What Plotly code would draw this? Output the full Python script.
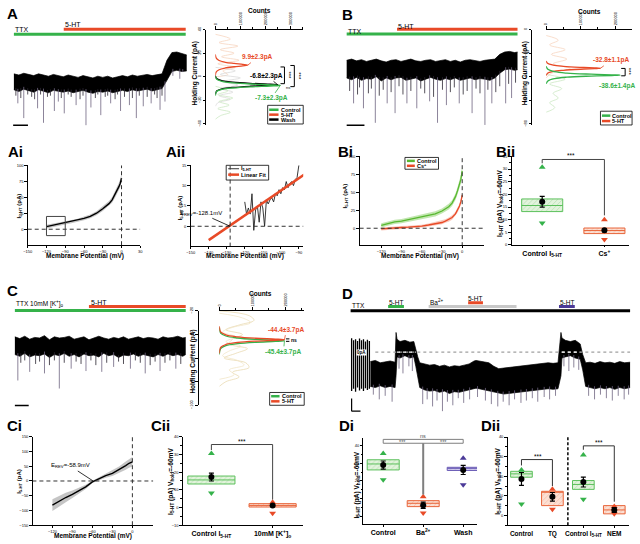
import numpy as np
import plotly.graph_objects as go

# ============================ DATA ============================
# ---- A: holding current trace (t in s, I in pA) ----
A_t = [0,20,40,60,80,100,120,140,160,180,200,220,240,260,280,300,320,340,360,380,400,420,440,460,480,500,520,540,560,580,600,620,640,660,680,700]
A_hi = [2.5,1.5,3.0,2.0,1.0,2.5,1.5,0.5,2.0,1.0,0.0,1.5,0.5,-0.5,1.0,0.0,-1.0,0.5,-0.5,0.5,-1.0,0.0,1.0,0.0,1.5,0.5,1.0,2.0,1.0,1.5,2.5,14.0,20.5,21.0,19.5,18.5]
A_lo = [-11,-12.5,-10.5,-12,-13,-11,-12,-13.5,-11.5,-12.5,-13,-12,-13.5,-12.5,-11.5,-13,-14,-12.5,-13,-12,-13.5,-12.5,-11.5,-12.5,-11,-12,-11.5,-10.5,-12,-11,-10,-3,4.5,5.5,4.5,5.0]
A_spk_t = [16,40,96,120,164,180,204,252,292,312,352,392,432,468,496,524,556,592,612,644,672,684]
A_spk_v = [-22.5,-35,-26.7,-39,-29,-21,-31,-24,-41,-26,-32.5,-22.5,-29,-24,-35,-25,-22.5,-28,-21,0.8,-1.7,4]
A_spk2_t = [8,28,56,72,84,108,136,148,192,220,232,268,280,330,340,370,380,410,420,448,480,508,540,570,580,600]
A_spk2_v = [-16,-18,-15,-17,-19,-15,-17,-16,-18,-15,-17,-19,-16,-18,-15,-17,-16,-19,-15,-17,-18,-16,-17,-15,-18,-16]
A_ttx = [0, 696]
A_5ht = [202, 696]

# ---- A: holding-current histograms (I pA, counts x1e5) ----
A_fit_5ht_i = [1,4,6,7.5,8.5,9.3,9.9,10.5,11.3,12.3,13.8,16,19]
A_fit_5ht_n = [0,0.03,0.15,0.4,0.75,1.1,1.3,1.1,0.75,0.4,0.15,0.03,0]
A_fit_wash_i = [-15,-12,-10,-9,-8,-7.3,-6.8,-6.2,-5.5,-4.5,-3.5,-1.5,1]
A_fit_wash_n = [0,0.05,0.3,0.7,1.4,2.1,2.5,2.1,1.4,0.7,0.3,0.05,0]
A_fit_ctrl_i = [-16,-12.5,-10.5,-9.5,-8.5,-7.8,-7.3,-6.8,-6.1,-5.1,-4.1,-2,0.5]
A_fit_ctrl_n = [0,0.05,0.3,0.7,1.4,2.2,2.6,2.2,1.4,0.7,0.3,0.05,0]
A_cell_5ht_i = [36,32,29,26,23,20,17,14,11,8,5,2,0]
A_cell_5ht_n = [0,0.6,0.15,0.9,0.2,0.75,0.25,0.95,0.1,0.8,0.3,0.5,0]
A_cell_wash_i = [8,5,2,-1,-4,-7,-10,-13,-16,-19,-22,-25]
A_cell_wash_n = [0,0.8,0.2,1.0,0.3,0.9,0.2,0.7,0.15,0.6,0.1,0]
A_cell_ctrl_i = [-8,-12,-15,-18,-21,-24,-27,-30,-33,-36]
A_cell_ctrl_n = [0,0.5,0.1,0.7,0.15,0.55,0.1,0.6,0.2,0]

# ---- B: trace ----
B_t = [0,20,40,60,80,100,120,140,160,180,200,220,240,260,280,300,320,340,360,380,400,420,440,460,480,500,520,540,560,580,600,620,640,660,680,692]
B_hi = [-26,-25,-26.5,-25.5,-27,-26,-25,-26.5,-27.5,-26,-25.5,-27,-26,-25,-26.5,-27,-26,-25.5,-27,-26.5,-25.5,-27,-26,-27.5,-26,-25.5,-26.5,-27,-26,-25.5,-25,-21,-19,-18.5,-19.5,-19]
B_lo = [-41,-42.5,-40.5,-43,-41.5,-42,-40,-43.5,-41,-42.5,-41,-40.5,-43,-42,-41,-43.5,-42,-40.5,-42,-43,-41.5,-42.5,-41,-43,-42,-41,-42.5,-41.5,-42,-43,-41,-37,-34,-33.5,-34.5,-34]
B_spk_t = [28,68,116,164,196,244,284,336,368,404,456,508,560,588,644,668]
B_spk_v = [-62.5,-66.7,-79,-62.5,-70.8,-62.5,-66.7,-60.8,-79,-64,-62.5,-70.8,-80.8,-62.5,-62.5,-58]
B_spk2_t = [12,44,52,88,100,132,148,180,212,228,260,300,316,352,388,420,436,472,488,524,540,572,604,620,656,684]
B_spk2_v = [-52,-55,-49,-54,-50,-56,-51,-53,-48,-55,-52,-50,-54,-57,-51,-53,-49,-55,-52,-50,-54,-51,-53,-48,-46,-45]
B_ttx = [0, 692]
B_5ht = [204, 692]

# ---- B: histograms ----
B_fit_5ht_i = [-39,-37,-35.5,-34.5,-33.6,-33.1,-32.8,-32.5,-32,-31.1,-30.1,-28.6,-26.6]
B_fit_5ht_n = [0,0.04,0.2,0.5,1.0,1.4,1.57,1.4,1.0,0.5,0.2,0.04,0]
B_fit_ctrl_i = [-46,-43.5,-41.5,-40.3,-39.4,-38.9,-38.6,-38.3,-37.8,-36.9,-35.7,-33.7,-31]
B_fit_ctrl_n = [0,0.05,0.25,0.6,1.3,1.9,2.14,1.9,1.3,0.6,0.25,0.05,0]
B_cell_5ht_i = [-5,-9,-13,-17,-21,-25,-29,-33,-37,-41]
B_cell_5ht_n = [0,0.35,0.1,0.55,0.15,0.6,0.2,0.7,0.15,0]
B_cell_ctrl_i = [-38,-42,-46,-50,-54,-58,-62,-66,-70]
B_cell_ctrl_n = [0,0.55,0.1,0.45,0.2,0.35,0.1,0.25,0]

# ---- C: trace ----
C_t = [0,20,40,60,80,100,120,140,160,180,200,220,240,260,280,300,320,340,360,380,400,420,440,460,480,500,520,540,560,580,600,620,640,660,680,692]
C_hi = [-42,-43.5,-41.5,-44,-42.5,-43,-41,-44.5,-42,-43,-42.5,-41.5,-44,-43,-42,-44.5,-43,-41.5,-43,-44,-42.5,-43.5,-42,-44,-43,-42,-43.5,-42.5,-43,-44,-42,-43,-42.5,-41.5,-43,-42.5]
C_lo = [-57,-58.5,-56,-59,-57.5,-58,-56.5,-59.5,-57,-58,-56,-58.5,-57,-59,-56.5,-58,-57.5,-59,-56,-58,-57,-59.5,-57.5,-58,-56.5,-58.5,-57,-58,-59,-57,-58.5,-56.5,-58,-57,-58.5,-57]
C_spk_t = [12,60,120,180,228,288,352,400,468,528,588,652]
C_spk_v = [-79,-71.7,-73,-85.8,-69,-71,-71.7,-67.5,-69,-73,-71,-69]
C_spk2_t = [24,40,84,100,140,160,200,248,268,308,328,372,420,440,488,508,548,568,608,628,672]
C_spk2_v = [-64,-62,-65,-63,-66,-62,-64,-63,-65,-62,-66,-64,-63,-65,-62,-64,-66,-63,-64,-62,-65]
C_ttx = [0, 692]
C_5ht = [300, 692]

# ---- C: histograms ----
C_fit_5ht_i = [-56,-51,-48.5,-46.8,-45.6,-44.9,-44.4,-43.9,-43.2,-42,-40.3,-37.8,-33]
C_fit_5ht_n = [0,0.04,0.2,0.55,1.1,1.7,1.97,1.7,1.1,0.55,0.2,0.04,0]
C_fit_ctrl_i = [-57,-52,-49.5,-47.8,-46.6,-45.9,-45.4,-44.9,-44.2,-43,-41.3,-38.8,-34]
C_fit_ctrl_n = [0,0.04,0.2,0.55,1.1,1.7,1.97,1.7,1.1,0.55,0.2,0.04,0]
C_cell1_i = [-20,-24,-28,-32,-36,-40,-44,-48,-52,-56,-60,-64,-68,-72,-76,-80,-84]
C_cell1_n = [0,0.9,1.05,0.6,0.2,0.7,0.4,0.3,0.85,0.5,0.15,0.8,0.9,0.4,0.6,0.2,0]
C_cell2_i = [-22,-26,-30,-34,-38,-42,-46,-50,-54,-58,-62,-66,-70,-74,-78]
C_cell2_n = [0,0.7,0.95,0.4,0.1,0.5,0.2,0.65,0.3,0.1,0.55,0.75,0.3,0.45,0]

# ---- D: trace ----
D_step_t = [4,12,20,28,36,44,52,60,68,76]
D_step_hi = [11.7,10,11,9.5,11.5,10,11,9,10.5,9.5]
D_step_lo = [-33,-31,-33.5,-30,-32.5,-31,-33,-30.5,-32,-31]
D_t = [80,100,120,140,160,180,184,188,200,220,240,256,264,272,280,300,320,340,360,380,400,420,440,460,480,500,508,520,540,560,580,600,620,640,660,680,700,720,740,760,780,800,820,840,852,856,870,890,910,930,940,952,970,990,1010,1030,1050,1070,1090,1110,1132]
D_hi = [-8,-7,-9,-8,-7.5,-8.5,16.7,11,9,10,8.5,9,2,-4,-9,-10,-11,-10.5,-12,-11,-12.5,-11.5,-12,-11,-10,-7.5,-7,-7.5,-8,-9,-12,-14,-13.5,-13,-12.5,-12,-11.5,-11,-10.5,-10,-9.5,-9,-9.5,-9,16.7,12,10,9,10,7,-2,-9,-8.5,-9.5,-8,-9,-8.5,-9.5,-8,-9,-8.5]
D_lo = [-29,-30,-28.5,-30,-29,-30,-20,-4,-5,-3,-5,-4,-12,-22,-30,-32,-33,-32.5,-34,-33,-35,-33.5,-34,-33,-32,-31,-30.5,-31,-32,-33,-34,-35,-35.5,-35,-34.5,-34,-33.5,-33,-32.5,-32,-31.5,-31,-31.5,-31,-20,-5,-4,-3,-5,-6,-15,-29,-30,-31,-30,-31,-30,-31.5,-30,-31,-30]
D_spk_t = [92,116,140,168,196,212,236,250,292,310,332,350,372,392,414,436,458,482,514,546,570,596,618,642,664,690,712,736,758,784,806,830,864,884,904,924,964,988,1012,1036,1060,1084,1108,1126]
D_spk_v = [-36,-40,-37,-42,-14,-18,-12,-16,-44,-40,-46,-41,-50,-42,-45,-39,-43,-40,-38,-41,-44,-46,-42,-45,-40,-43,-41,-39,-42,-38,-40,-37,-12,-16,-13,-15,-37,-40,-36,-39,-41,-37,-40,-36]
D_ttx = [0, 1132]
D_5ht_1 = [152, 216]
D_ba = [316, 672]
D_5ht_2 = [476, 536]
D_5ht_3 = [844, 908]

# ---- I-V curves (mV, pA) ----
Ai_v = [-120,-110,-100,-90,-80,-70,-60,-50,-40,-30,-25,-20,-15,-10,-7,-4,-2,0]
Ai_i = [4,6,8,10,12,14,17,20,25,32,36,40,46,55,61,67,72,80]
Ai_sem = [3,2.5,2.5,2.5,2.5,2.5,3,3,3,3.5,3.5,4,4.5,5,5.5,6,6.5,7]
Aii_v = [-120,-119,-118,-117,-116,-115,-114,-113,-112,-111,-110,-109,-108,-107,-106,-105,-104,-103,-102,-101,-100,-99,-98,-97,-96,-95,-94,-93,-92,-91,-90]
Aii_i = [6,3,4.5,3,8,-1,4,5,1,6,4.5,0,6.5,5.5,6.5,7,6,8,7.5,9,8,9.5,9,11,9.5,10.5,11,10,11.5,12,15]
Aii_fit_v = [-140, -87]
Aii_fit_i = [-3.4, 12.7]
Bi_v = [-120,-110,-100,-90,-80,-70,-60,-50,-40,-30,-25,-20,-15,-10,-7,-4,-2,0]
Bi_ctrl = [4,7,9,10,12,14,16,18,20,24,27,30,35,44,52,60,68,80]
Bi_ctrl_sem = [3,3,3,3,3,3,3,3,3.5,3.5,3.5,4,4,4.5,5,5.5,6,6.5]
Bi_cs = [-1,0,0,1,1.5,2,3,4.5,6,8,10,12,15,20,25,31,37,46]
Bi_cs_sem = [2,2,2,2,2,2,2,2,2.5,2.5,2.5,3,3,3,3.5,3.5,4,4.5]
Ci_v = [-120,-110,-100,-90,-80,-70,-60,-50,-40,-30,-20,-10,-5,0]
Ci_i = [-82,-68,-56,-45,-33,-20,-3,8,18,26,38,52,60,65]
Ci_sem = [20,18,16,13,10,7,4,5,7,9,11,14,15,16]

# ---- summary plots (pA at Vhold=-60mV) ----
Bii_cat = ["Control I<sub>5-HT</sub>", "Cs<sup>+</sup>"]
Bii_q1 = [13.2, 4.5]; Bii_med = [15.6, 5.7]; Bii_q3 = [18.2, 6.7]
Bii_mean = [17.1, 5.8]; Bii_sem = [2.1, 0.6]; Bii_max = [30.7, 10.0]; Bii_min = [8.7, 2.2]
Cii_cat = ["Control I<sub>5-HT</sub>", "10mM [K<sup>+</sup>]<sub>o</sub>"]
Cii_q1 = [13.3, 0.3]; Cii_med = [15.6, 1.2]; Cii_q3 = [17.8, 2.2]
Cii_mean = [17.2, 1.1]; Cii_sem = [2.2, 0.5]; Cii_max = [30.6, 3.0]; Cii_min = [8.2, -3.2]
Di_cat = ["Control", "Ba<sup>2+</sup>", "Wash"]
Di_q1 = [26.3, 5.4, 26.0]; Di_med = [29.7, 7.3, 27.2]; Di_q3 = [32.1, 8.8, 27.8]
Di_mean = [29.1, 6.2, 26.3]; Di_sem = [2.3, 1.8, 2.6]; Di_max = [35.7, 11.0, 32.9]; Di_min = [20.7, 1.7, 17.9]
Dii_cat = ["Control", "TQ", "Control I<sub>5-HT</sub>", "NEM"]
Dii_q1 = [19.5, 5.0, 13.3, 0.8]; Dii_med = [21.2, 11.8, 15.8, 2.8]; Dii_q3 = [22.5, 12.3, 17.8, 5.0]
Dii_mean = [18.6, 9.5, 17.0, 2.8]; Dii_sem = [3.3, 2.2, 2.5, 1.2]; Dii_max = [23.2, 13.3, 30.8, 4.5]; Dii_min = [5.8, 3.2, 8.3, 0.8]

# ============================ STYLE / HELPERS ============================
W, H = 640, 544
FONT = "Liberation Sans, Arial, Helvetica, sans-serif"
GRN = "#35b24a"; RED = "#e84a27"; PUR = "#4b3a98"; SPK = "#6e6480"
LIME = "#58b830"
STY = {
    "g": dict(edge="#5cc05c", fill="#e2f3dc", pat="#98d492", tri=GRN),
    "r": dict(edge="#e8653a", fill="#fcdfd3", pat="#f2a585", tri=RED),
    "p": dict(edge="#6a5bb5", fill="#d6d0ee", pat="#a297d8", tri=PUR),
}

fig = go.Figure()
L = dict(width=W, height=H, margin=dict(l=0, r=0, t=0, b=0), paper_bgcolor="white",
         plot_bgcolor="rgba(0,0,0,0)", showlegend=False, barmode="overlay",
         font=dict(family=FONT, size=5, color="black"))
ANN, SHP = [], []


def cal(v0, p0, v1, p1):
    k = (v1 - v0) / (p1 - p0)
    return lambda p: v0 + (p - p0) * k


def base_axis():
    return dict(showgrid=False, zeroline=False, showline=True, linecolor="black", linewidth=1,
                ticks="outside", ticklen=2.5, tickwidth=1, tickcolor="black",
                tickfont=dict(family=FONT, size=4, color="black"))


HIDE = dict(visible=False)


def axes(n, box, xc, yc, xo=None, yo=None):
    x0, y0, x1, y1 = box
    fx, fy = cal(*xc), cal(*yc)
    s = "" if n == 1 else str(n)
    xa = dict(base_axis(), domain=[x0 / W, x1 / W], range=[fx(x0), fx(x1)], anchor="y" + s)
    ya = dict(base_axis(), domain=[1 - y1 / H, 1 - y0 / H], range=[fy(y1), fy(y0)], anchor="x" + s)
    if xo: xa.update(xo)
    if yo: ya.update(yo)
    L["xaxis" + s] = xa
    L["yaxis" + s] = ya
    return ("x" + s, "y" + s)


def sc(ax, **kw):
    kw.setdefault("hoverinfo", "skip")
    fig.add_trace(go.Scatter(xaxis=ax[0], yaxis=ax[1], showlegend=False, **kw))


def px(x): return x / W
def py(y): return 1 - y / H


def ann(x, y, text, size=6, color="black", bold=False, xa="center", ya="middle", angle=0, bg=None):
    d = dict(x=px(x), y=py(y), xref="paper", yref="paper", text=f"<b>{text}</b>" if bold else text,
             showarrow=False, font=dict(family=FONT, size=size, color=color), xanchor=xa, yanchor=ya,
             textangle=angle, borderpad=0)
    if bg: d["bgcolor"] = bg
    ANN.append(d)


def pl(x0, y0, x1, y1, color="black", width=1):
    SHP.append(dict(type="line", xref="paper", yref="paper", x0=px(x0), y0=py(y0), x1=px(x1), y1=py(y1),
                    line=dict(color=color, width=width)))


def prect(x0, y0, x1, y1):
    SHP.append(dict(type="rect", xref="paper", yref="paper", x0=px(x0), y0=py(y0), x1=px(x1), y1=py(y1),
                    line=dict(color="black", width=0.8), fillcolor="white", layer="below"))


def dl(ax, x0, y0, x1, y1, color="black", width=1, dash=None):
    ln = dict(color=color, width=width)
    if dash: ln["dash"] = dash
    SHP.append(dict(type="line", xref=ax[0], yref=ax[1], x0=x0, y0=y0, x1=x1, y1=y1, line=ln))


def band(ax, t, hi, lo, color="black"):
    sc(ax, x=t, y=lo, mode="lines", line=dict(color=color, width=0.7))
    sc(ax, x=t, y=hi, mode="lines", line=dict(color=color, width=0.7), fill="tonexty", fillcolor=color)


def spikes(ax, t_env, lo_env, ts, vs, color=SPK, width=0.8):
    base = np.interp(ts, t_env, lo_env)
    xs, ys = [], []
    for t, b, v in zip(ts, base, vs):
        xs += [t, t, None]; ys += [b + 2, v, None]
    sc(ax, x=xs, y=ys, mode="lines", line=dict(color=color, width=width))


def drug(ax, win, level, color, width=3):
    sc(ax, x=win, y=[level, level], mode="lines", line=dict(color=color, width=width))


def meanband(ax, v, m, s, lc, bc, w=1.2):
    up = [a + b for a, b in zip(m, s)]
    dn = [a - b for a, b in zip(m, s)]
    sc(ax, x=v, y=dn, mode="lines", line=dict(width=0, color=bc))
    sc(ax, x=v, y=up, mode="lines", line=dict(width=0, color=bc), fill="tonexty", fillcolor=bc)
    sc(ax, x=v, y=m, mode="lines", line=dict(color=lc, width=w))


def hist_curve(ax, i, n, color, w):
    sc(ax, x=n, y=i, mode="lines", line=dict(color=color, width=w, shape="spline"))


def val_ann(ax, x, y, text, color, dx, dy):
    ANN.append(dict(x=x, y=y, xref=ax[0], yref=ax[1], text=f"<b>{text}</b>", showarrow=True, arrowhead=0,
                    arrowwidth=0.8, arrowcolor=color, ax=dx, ay=dy, standoff=0,
                    font=dict(family=FONT, size=6.5, color=color)))


def summary(ax, q1, med, q3, mean, sem, mx, mn, cols, width):
    for k in range(len(q1)):
        st = STY[cols[k]]
        fig.add_trace(go.Bar(x=[k], y=[q3[k] - q1[k]], base=[q1[k]], width=width, xaxis=ax[0], yaxis=ax[1],
                             showlegend=False, hoverinfo="skip",
                             marker=dict(color=st["fill"], line=dict(color=st["edge"], width=1),
                                         pattern=dict(shape="/", fgcolor=st["pat"], bgcolor=st["fill"],
                                                      size=3.5, solidity=0.25))))
        sc(ax, x=[k - width / 2, k + width / 2], y=[med[k], med[k]], mode="lines",
           line=dict(color=st["edge"], width=1))
        sc(ax, x=[k], y=[mx[k]], mode="markers", marker=dict(symbol="triangle-up", size=6, color=st["tri"]))
        sc(ax, x=[k], y=[mn[k]], mode="markers", marker=dict(symbol="triangle-down", size=6, color=st["tri"]))
        sc(ax, x=[k], y=[mean[k]], mode="markers", marker=dict(symbol="circle", size=6, color="black"),
           error_y=dict(type="data", array=[sem[k]], color="black", thickness=1.2, width=2.5))


def cat_axis(cats, size=7):
    return dict(tickvals=list(range(len(cats))), ticktext=[f"<b>{c}</b>" for c in cats],
                tickfont=dict(family=FONT, size=size, color="black"), ticks="outside", ticklen=1.5)


def val_axis(vals, half):
    return dict(tickvals=vals, minor=dict(ticks="outside", ticklen=1.5, dtick=half, tick0=0, tickcolor="black"))


def count_axis(ticks, labels):
    return dict(side="top", tickvals=ticks, ticktext=labels, tickangle=-90,
                minor=dict(ticks="outside", ticklen=1.5, dtick=0.5, tick0=0, tickcolor="black"))


STAR = 6.5
YT = 6.6
FAINT_R, FAINT_K, FAINT_G = "#f8d6c0", "#dadada", "#cde9c4"

# ============================ PANEL A ============================
axA = axes(1, (7, 10, 185, 125), (0, 9, 400, 109), (0, 73, 40, 25), HIDE, HIDE)
band(axA, A_t, A_hi, A_lo)
spikes(axA, A_t, A_lo, A_spk2_t, A_spk2_v, "#2a2530", 0.8)
spikes(axA, A_t, A_lo, A_spk_t, A_spk_v)
drug(axA, A_ttx, 36.1, GRN)
drug(axA, A_5ht, 40.3, RED)
dl(axA, -3, -41, 57, -41, "black", 1.5)
ann(9, 24.5, "TTX", 7, xa="left")
ann(60, 19.7, "5-HT", 7, xa="left")

axAh = axes(2, (213, 25, 302, 122), (0, 213, 1, 238.3), (0, 73, 40, 25),
            count_axis([0, 1, 2, 3], ["0", "100000", "200000", "300000"]),
            dict(anchor="free", position=203 / W, tickvals=[-40, -20, 0, 20, 40], tickangle=-90))
hist_curve(axAh, A_cell_5ht_i, A_cell_5ht_n, FAINT_R, 0.8)
hist_curve(axAh, A_cell_wash_i, A_cell_wash_n, FAINT_K, 0.8)
hist_curve(axAh, A_cell_ctrl_i, A_cell_ctrl_n, FAINT_G, 0.8)
hist_curve(axAh, A_fit_5ht_i, A_fit_5ht_n, RED, 1.3)
hist_curve(axAh, A_fit_wash_i, A_fit_wash_n, "black", 1.3)
hist_curve(axAh, A_fit_ctrl_i, A_fit_ctrl_n, GRN, 1.3)
val_ann(axAh, A_fit_5ht_n[6], A_fit_5ht_i[6], "9.9±2.3pA", RED, 10, -8)
val_ann(axAh, A_fit_wash_n[6], A_fit_wash_i[6], "-6.8±2.3pA", "black", -11, -9)
val_ann(axAh, A_fit_ctrl_n[6], A_fit_ctrl_i[6], "-7.3±2.3pA", GRN, -9, 13)
ann(192, 70, "Holding Current (pA)", 6.5, bold=True, angle=-90)
ann(258, 5.5, "Counts", 6.5, bold=True)
for (x, y0, y1, tx) in [(283, 63, 80, 287.5), (293, 61.5, 83, 297.5)]:
    pl(x - 4, y0, x, y0); pl(x, y0, x, y1); pl(x - 4, y1, x, y1)
    ann(tx, (y0 + y1) / 2, "***", 6, angle=90)
ann(287, 83.5, "ns", 4)
prect(266, 102, 302, 121)
for yy, c, t in [(106.5, GRN, "Control"), (111.5, RED, "5-HT"), (116.5, "black", "Wash")]:
    pl(267.5, yy, 277, yy, c, 2.5)
    ann(278, yy, t, 5.5, bold=True, xa="left")

# ============================ PANEL B ============================
axB = axes(3, (345, 10, 521, 125), (0, 346, 400, 446), (0, 25, -40, 73), HIDE, HIDE)
band(axB, B_t, B_hi, B_lo)
spikes(axB, B_t, B_lo, B_spk2_t, B_spk2_v, "#2a2530", 0.8)
spikes(axB, B_t, B_lo, B_spk_t, B_spk_v)
drug(axB, B_ttx, -3.75, GRN)
drug(axB, B_5ht, 0.25, RED)
dl(axB, 0, -81, 72, -81, "black", 1.5)
ann(346, 27, "TTX", 7, xa="left")
ann(397, 22, "5-HT", 7, xa="left")

axBh = axes(4, (548, 25, 635, 122), (0, 548, 1, 583), (0, 25, -40, 73),
            count_axis([0, 1, 2], ["0", "100000", "200000"]),
            dict(anchor="free", position=533 / W, tickvals=[0, -20, -40, -60, -80], tickangle=-90))
hist_curve(axBh, B_cell_5ht_i, B_cell_5ht_n, FAINT_R, 0.8)
hist_curve(axBh, B_cell_ctrl_i, B_cell_ctrl_n, FAINT_G, 0.8)
hist_curve(axBh, B_fit_5ht_i, B_fit_5ht_n, RED, 1.3)
hist_curve(axBh, B_fit_ctrl_i, B_fit_ctrl_n, GRN, 1.3)
val_ann(axBh, B_fit_5ht_n[6], B_fit_5ht_i[6], "-32.8±1.1pA", RED, 11, -8)
val_ann(axBh, B_fit_ctrl_n[6], B_fit_ctrl_i[6], "-38.6±1.4pA", GRN, -3, 11)
ann(526, 69, "Holding Current (pA)", 6.5, bold=True, angle=-90)
ann(592, 6.5, "Counts", 6.5, bold=True)
pl(624, 64.5, 628, 64.5); pl(628, 64.5, 628, 72); pl(624, 72, 628, 72)
ann(632, 68, "***", 6, angle=90)
prect(603, 108, 635, 122)
for yy, c, t in [(112.5, GRN, "Control"), (118, RED, "5-HT")]:
    pl(604.5, yy, 613, yy, c, 2.5)
    ann(614, yy, t, 5.5, bold=True, xa="left")

# ============================ PANEL Ai ============================
axAi = axes(5, (23, 163, 137, 244), (-150, 23, 0, 118), (0, 228, 100, 163),
            dict(tickvals=[-150, -120, -90, -60, -30, 0, 30]),
            dict(tickvals=[-25, 0, 25, 50, 75, 100]))
meanband(axAi, Ai_v, Ai_i, Ai_sem, "black", "rgba(150,150,150,0.55)", 1.4)
dl(axAi, -150, 0, 30, 0, "#333", 1, "4px,3px")
dl(axAi, 0, -25, 0, 100, "#333", 1, "4px,3px")
SHP.append(dict(type="rect", xref=axAi[0], yref=axAi[1], x0=-120, x1=-90, y0=-10, y1=20,
                line=dict(color="#444", width=1)))
ann(81, 255.5, "Membrane Potential (mV)", 6.5, bold=True)
ann(15, 204, "I<sub>5-HT</sub> (pA)", 6, bold=True, angle=-90)

# ============================ PANEL Aii ============================
axAii = axes(6, (188, 163, 302, 245), (-150, 188, -128.1, 228), (0, 225, 15, 163),
             dict(tickvals=[-150, -140, -130, -120, -110, -100, -90]),
             dict(tickvals=[-5, 0, 5, 10, 15]))
sc(axAii, x=Aii_v, y=Aii_i, mode="lines", line=dict(color="#222", width=0.9))
sc(axAii, x=Aii_fit_v, y=Aii_fit_i, mode="lines", line=dict(color=RED, width=2.5))
dl(axAii, -150, 0, -87, 0, "#333", 1, "4px,3px")
dl(axAii, -128.1, -5, -128.1, 15, "#333", 1, "4px,3px")
ANN.append(dict(x=-128.1, y=0, xref=axAii[0], yref=axAii[1], text="E<sub>REV</sub>=-128.1mV", showarrow=True,
                arrowhead=0, arrowwidth=0.8, arrowcolor="black", ax=-29, ay=-13, standoff=0,
                font=dict(family=FONT, size=6, color="black")))
prect(224, 163, 267, 178)
pl(226, 166.5, 237, 166.5, "#333", 1)
ann(238, 166.5, "I<sub>5-HT</sub>", 5.5, bold=True, xa="left")
pl(226, 172.5, 237, 172.5, RED, 2.5)
ann(238, 172.5, "Linear Fit", 5.5, bold=True, xa="left")
ann(243.5, 255.5, "Membrane Potential (mV)", 6.5, bold=True)
ann(178, 206, "I<sub>5-HT</sub> (pA)", 6, bold=True, angle=-90)

# ============================ PANEL Bi ============================
axBi = axes(7, (359, 154, 485, 244), (-120, 381, 0, 463), (0, 227, 100, 154),
            dict(tickvals=[-120, -90, -60, -30, 0]),
            dict(tickvals=[-25, 0, 25, 50, 75, 100]))
meanband(axBi, Bi_v, Bi_ctrl, Bi_ctrl_sem, LIME, "rgba(120,200,80,0.45)", 1.3)
meanband(axBi, Bi_v, Bi_cs, Bi_cs_sem, RED, "rgba(240,120,90,0.4)", 1.3)
dl(axBi, -152, 0, 32, 0, "#333", 1, "4px,3px")
dl(axBi, 0, -25, 0, 100, "#333", 1, "4px,3px")
prect(405, 155, 439, 167)
pl(407, 158.5, 415, 158.5, LIME, 2.5)
ann(416.5, 158.5, "Control", 5.5, bold=True, xa="left")
pl(407, 163.5, 415, 163.5, RED, 2.5)
ann(416.5, 163.5, "Cs<sup>+</sup>", 5.5, bold=True, xa="left")
ann(420, 255, "Membrane Potential (mV)", 6.5, bold=True)
ann(345, 194, "I<sub>5-HT</sub> (pA)", 6, bold=True, angle=-90)

# ============================ PANEL Bii ============================
axBii = axes(8, (513, 154, 632, 244), (0, 544, 1, 607), (0, 244, 35, 154),
             cat_axis(Bii_cat), val_axis([0, 5, 10, 15, 20, 25, 30, 35], 2.5))
summary(axBii, Bii_q1, Bii_med, Bii_q3, Bii_mean, Bii_sem, Bii_max, Bii_min, ["g", "r"], 0.66)
dl(axBii, 0, 32.3, 0, 33.8, "#444"); dl(axBii, 0, 33.8, 1, 33.8, "#444"); dl(axBii, 1, 33.8, 1, 11.7, "#444")
ann(573, 153.5, "***", STAR)
ann(500.5, 202, "I<sub>5-HT</sub> (pA) V<sub>hold</sub>=-60mV", YT, bold=True, angle=-90)

# ============================ PANEL C ============================
axC = axes(9, (9, 295, 185, 412), (0, 10, 400, 110), (-40, 335, -80, 383), HIDE, HIDE)
band(axC, C_t, C_hi, C_lo)
spikes(axC, C_t, C_lo, C_spk2_t, C_spk2_v, "#2a2530", 0.8)
spikes(axC, C_t, C_lo, C_spk_t, C_spk_v)
drug(axC, C_ttx, -19.75, GRN)
drug(axC, C_5ht, -16.4, RED)
dl(axC, 0, -100.3, 56, -100.3, "black", 1.5)
ann(10, 304, "TTX 10mM [K<sup>+</sup>]<sub>o</sub>", 6.5, xa="left")
ann(86, 302.5, "5-HT", 7, xa="left")

axCh = axes(10, (217, 311, 303, 407), (0, 217, 1, 250.5), (-40, 335, -80, 383),
            count_axis([0, 1, 2], ["0", "100000", "200000"]),
            dict(anchor="free", position=195 / W, tickvals=[-20, -40, -60, -80, -100], tickangle=-90))
hist_curve(axCh, C_cell1_i, C_cell1_n, "#eadbb2", 0.8)
hist_curve(axCh, C_cell2_i, C_cell2_n, "#f1e6c8", 0.8)
hist_curve(axCh, C_fit_ctrl_i, C_fit_ctrl_n, GRN, 1.3)
hist_curve(axCh, C_fit_5ht_i, C_fit_5ht_n, RED, 1.3)
val_ann(axCh, C_fit_5ht_n[6], C_fit_5ht_i[6], "-44.4±3.7pA", RED, 2, -10)
val_ann(axCh, C_fit_ctrl_n[6], C_fit_ctrl_i[6], "-45.4±3.7pA", GRN, -1, 11)
pl(284.5, 339.5, 288, 339.5); pl(284.5, 342, 288, 342)
ann(289, 341, "ns", 5, bold=True, xa="left")
ann(190, 363, "Holding Current (pA)", 6.5, bold=True, angle=-90)
ann(259, 293.5, "Counts", 6.5, bold=True)
prect(268, 394, 303, 407)
for yy, c, t in [(397.8, GRN, "Control"), (403, RED, "5-HT")]:
    pl(269.5, yy, 278, yy, c, 2.5)
    ann(279, yy, t, 5.5, bold=True, xa="left")

# ============================ PANEL D ============================
axD = axes(11, (349, 292, 634, 416), (0, 350, 400, 450), (0, 353, -20, 377), HIDE, HIDE)
sx, sy = [], []
for t, a, b in zip(D_step_t, D_step_hi, D_step_lo):
    sx += [t, t, None]; sy += [a, b, None]
sc(axD, x=sx, y=sy, mode="lines", line=dict(color="black", width=1.3))
band(axD, D_t, D_hi, D_lo)
spikes(axD, D_t, D_lo, D_spk_t, D_spk_v)
sc(axD, x=[100, D_ttx[1]], y=[0, 0], mode="lines", line=dict(color="#a0a0a0", width=1.2, dash="3px,3px"))
# white dashes where the trace covers the 0 pA level
Dh, Dl, Dt = np.array(D_hi), np.array(D_lo), np.array(D_t)
mask = (Dh > 0) & (Dl < 0)
segs, cur = [], None
for k in range(len(Dt)):
    if mask[k] and cur is None: cur = Dt[k]
    if not mask[k] and cur is not None:
        segs.append((cur, Dt[k - 1])); cur = None
for a, b in segs:
    sc(axD, x=[a + 4, b], y=[0, 0], mode="lines", line=dict(color="white", width=1.2, dash="3px,3px"))
drug(axD, D_ttx, 35, "black", 3)
drug(axD, D_5ht_1, 38.6, GRN)
drug(axD, D_ba, 38.6, "#c8c8c8")
drug(axD, D_5ht_2, 41.9, RED)
drug(axD, D_5ht_3, 38.6, PUR)
dl(axD, 4, -39.2, 4, -50, "black", 1.2)
dl(axD, 4, -50, 40, -50, "black", 1.2)
ann(350, 305.5, "TTX", 6.5, xa="left")
ann(396, 302.5, "5-HT", 6.5)
ann(429, 302, "Ba<sup>2+</sup>", 6.5, xa="left")
ann(476, 298, "5-HT", 6.5)
ann(569, 302.5, "5-HT", 6.5)
ann(361, 353.5, "0pA", 4.5, bold=True, bg="white")

# ============================ PANEL Ci ============================
axCi = axes(12, (28, 439, 150, 529), (-120, 48, 0, 129), (0, 484, 150, 439),
            dict(tickvals=[-120, -90, -60, -30, 0], ticklen=2),
            dict(tickvals=[-150, -100, -50, 0, 50, 100, 150]))
meanband(axCi, Ci_v, Ci_i, Ci_sem, "black", "rgba(150,150,150,0.55)", 1.4)
dl(axCi, -150, 0, 32, 0, "#333", 1, "4px,3px")
dl(axCi, 0, -150, 0, 150, "#333", 1, "4px,3px")
ANN.append(dict(x=-58.9, y=0, xref=axCi[0], yref=axCi[1], text="E<sub>REV</sub>=-58.9mV", showarrow=True,
                arrowhead=0, arrowwidth=0.8, arrowcolor="black", ax=-23, ay=-15, standoff=0,
                font=dict(family=FONT, size=6, color="black")))
ann(89, 539.5, "Membrane Potential (mV)", 6.5, bold=True)
ann(15, 484, "I<sub>5-HT</sub> (pA)", 6, bold=True, angle=-90)

# ============================ PANEL Cii ============================
axCii = axes(13, (180, 439, 302, 529), (0, 209, 1, 271), (0, 511, 40, 439),
             cat_axis(Cii_cat), val_axis([-10, 0, 10, 20, 30, 40], 5))
summary(axCii, Cii_q1, Cii_med, Cii_q3, Cii_mean, Cii_sem, Cii_max, Cii_min, ["g", "r"], 0.77)
dl(axCii, 0, 32.5, 0, 35.6, "#444"); dl(axCii, 0, 35.6, 1, 35.6, "#444"); dl(axCii, 1, 35.6, 1, 4.5, "#444")
ann(240, 444, "***", STAR)
ann(168, 484, "I<sub>5-HT</sub> (pA) V<sub>hold</sub>=-60mV", YT, bold=True, angle=-90)

# ============================ PANEL Di ============================
axDi = axes(14, (363, 440, 478, 528), (0, 383, 1, 423.5), (0, 519.7, 40, 448.3),
            cat_axis(Di_cat), val_axis([0, 10, 20, 30, 40], 5))
summary(axDi, Di_q1, Di_med, Di_q3, Di_mean, Di_sem, Di_max, Di_min, ["g", "r", "p"], 0.8)
GR = "#7f7f7f"
dl(axDi, 0, 43.7, 2, 43.7, GR); dl(axDi, 0, 41.5, 0, 43.7, GR); dl(axDi, 2, 41.5, 2, 43.7, GR)
dl(axDi, 0, 41.5, 2, 41.5, GR)
dl(axDi, 1, 41.5, 1, 12.3, GR, 2)
ann(403, 444, "***", 5.5, color="#555")
ann(444, 444, "***", 5.5, color="#555")
ann(423, 438.5, "ns", 5.5, color="#555")
ann(356, 488, "I<sub>5-HT</sub> (pA) V<sub>hold</sub>=-60mV", YT, bold=True, angle=-90)

# ============================ PANEL Dii ============================
axDii = axes(15, (509, 439, 632, 529), (0, 523, 3, 617), (0, 519, 40, 439.3),
             cat_axis(Dii_cat, 6.5), val_axis([0, 10, 20, 30, 40], 5))
summary(axDii, Dii_q1, Dii_med, Dii_q3, Dii_mean, Dii_sem, Dii_max, Dii_min, ["g", "r", "g", "r"], 0.7)
dl(axDii, 1.5, -5, 1.5, 40.5, "black", 1.5, "3px,2px")
dl(axDii, 0, 25.5, 0, 28.5, "#333"); dl(axDii, 0, 28.5, 1, 28.5, "#333"); dl(axDii, 1, 28.5, 1, 15, "#333")
dl(axDii, 2, 33.5, 2, 35.5, "#333"); dl(axDii, 2, 35.5, 3, 35.5, "#333"); dl(axDii, 3, 35.5, 3, 7, "#333")
ann(540, 459, "***", STAR)
ann(602, 445, "***", STAR)
ann(499, 484, "I<sub>5-HT</sub> (pA) V<sub>hold</sub>=-60mV", YT, bold=True, angle=-90)

# ============================ PANEL LABELS ============================
for t, x, y in [("A", 1, 3), ("B", 340, 4), ("Ai", 2, 143), ("Aii", 162, 143), ("Bi", 336, 143),
                ("Bii", 496, 143), ("C", 1, 285), ("D", 340, 288), ("Ci", 1, 422), ("Cii", 147, 422),
                ("Di", 337, 422), ("Dii", 481, 422)]:
    ann(x, y - 4, t, 15, bold=True, xa="left", ya="top")

L["annotations"] = ANN
L["shapes"] = SHP
fig.update_layout(**L)
fig.write_html("out.html", config={"displayModeBar": False},
               post_script="document.body.style.margin='0';")
